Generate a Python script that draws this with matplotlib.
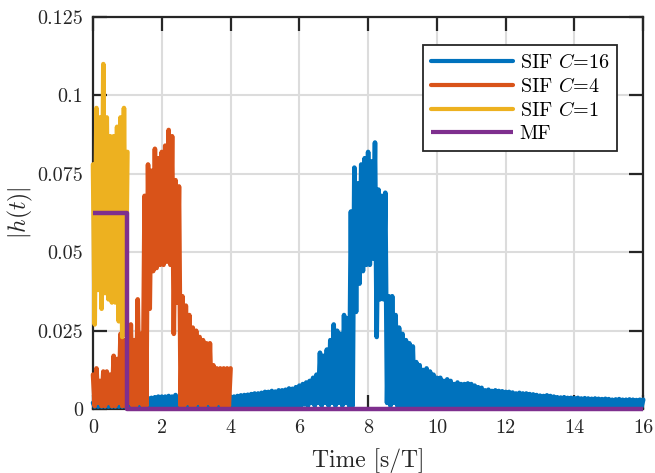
import numpy as np
import matplotlib
matplotlib.use("Agg")
import matplotlib.pyplot as plt

# LaTeX-like look (MATLAB export with latex interpreter)
plt.rcParams['font.family'] = 'serif'
plt.rcParams['font.serif'] = ['cmr10']
plt.rcParams['mathtext.fontset'] = 'cm'
plt.rcParams['axes.unicode_minus'] = False

# --- data read off the picture: envelope of |h(t)| sampled every 0.1 s/T ---
# upper = peaks at t, lower = troughs half a step later
yellow_t = np.arange(0, 1.0001, 0.1)
yellow_upper = [0.078, 0.096, 0.093, 0.110, 0.093, 0.087, 0.087, 0.090, 0.093, 0.096, 0.082]
yellow_lower = [0.027, 0.038, 0.032, 0.037, 0.035, 0.034, 0.034, 0.028, 0.023, 0.031]

orange_t = np.arange(0, 4.0001, 0.1)
orange_upper = [0.011, 0.013, 0.009, 0.012, 0.012, 0.011, 0.017, 0.016, 0.024, 0.022,
                0.027, 0.027, 0.022, 0.035, 0.024, 0.068, 0.078, 0.076, 0.083, 0.080,
                0.082, 0.084, 0.089, 0.087, 0.073, 0.071, 0.036, 0.033, 0.030, 0.026,
                0.025, 0.023, 0.022, 0.021, 0.021, 0.014, 0.013, 0.013, 0.013, 0.013,
                0.013]
orange_lower = [0.001, 0.002, 0.001, 0.001, 0.002, 0.001, 0.001, 0.002, 0.001, 0.001,
                0.002, 0.001, 0.001, 0.002, 0.001, 0.001, 0.032, 0.044, 0.045, 0.046,
                0.046, 0.047, 0.046, 0.024, 0.034, 0.001, 0.001, 0.002, 0.001, 0.001,
                0.002, 0.001, 0.001, 0.002, 0.001, 0.001, 0.002, 0.001, 0.001, 0.001]

blue_t = np.arange(0, 16.0001, 0.1)
blue_upper = [0.002, 0.0025, 0.002, 0.002, 0.0025, 0.002, 0.002, 0.0025, 0.002, 0.002,
              0.0025, 0.003, 0.003, 0.0032, 0.0033, 0.0035, 0.0035, 0.0036, 0.0038, 0.004,
              0.004, 0.004, 0.0042, 0.004, 0.0045, 0.004, 0.0042, 0.004, 0.0042, 0.004,
              0.004, 0.0042, 0.004, 0.0042, 0.004, 0.0042, 0.004, 0.0042, 0.004, 0.004,
              0.004, 0.004, 0.0042, 0.0044, 0.0045, 0.0046, 0.0048, 0.005, 0.005, 0.0052,
              0.0055, 0.0055, 0.0058, 0.0056, 0.006, 0.006, 0.0062, 0.0066, 0.0065, 0.007,
              0.0075, 0.008, 0.0085, 0.009, 0.010, 0.011, 0.018, 0.017, 0.019, 0.022,
              0.027, 0.025, 0.024, 0.030, 0.029, 0.063, 0.077, 0.072, 0.078, 0.080,
              0.082, 0.079, 0.085, 0.070, 0.068, 0.069, 0.036, 0.036, 0.030, 0.026,
              0.024, 0.022, 0.021, 0.020, 0.015, 0.014, 0.0125, 0.013, 0.012, 0.011,
              0.010, 0.010, 0.009, 0.0095, 0.009, 0.008, 0.0085, 0.008, 0.008, 0.0082,
              0.008, 0.0075, 0.007, 0.0068, 0.006, 0.0062, 0.0058, 0.006, 0.0058, 0.0057,
              0.0055, 0.0055, 0.0053, 0.005, 0.0052, 0.005, 0.005, 0.0048, 0.0047, 0.0045,
              0.0043, 0.0042, 0.0044, 0.0042, 0.004, 0.0038, 0.0037, 0.0038, 0.0036, 0.0036,
              0.0035, 0.0036, 0.0034, 0.0035, 0.0034, 0.0033, 0.0034, 0.0033, 0.0032, 0.0033,
              0.0032, 0.003, 0.0031, 0.0032, 0.003, 0.003, 0.0031, 0.003, 0.0029, 0.003,
              0.003]
blue_lower = [0.0008] * 60 + [
              0.001, 0.0015, 0.001, 0.002, 0.001, 0.002, 0.001, 0.002, 0.001, 0.002,
              0.001, 0.002, 0.001, 0.002, 0.001, 0.001, 0.031, 0.040, 0.044, 0.046,
              0.046, 0.048, 0.023, 0.035, 0.035, 0.002, 0.001, 0.002, 0.001, 0.001] + [0.0008] * 70

mf_t = [0, 1, 1, 16]
mf_v = [0.0625, 0.0625, 0, 0]

labels = [r'SIF $C$=16', r'SIF $C$=4', r'SIF $C$=1', 'MF']
colors = ['#0072BD', '#D95319', '#EDB120', '#7E2F8E']

yticks = [0, 0.025, 0.05, 0.075, 0.1, 0.125]
ytick_labels = ['0', '0.025', '0.05', '0.075', '0.1', '0.125']
xticks = [0, 2, 4, 6, 8, 10, 12, 14, 16]


def zigzag(t, upper, lower):
    # peaks at t, troughs halfway to the next sample
    t = np.asarray(t)
    x = np.empty(2 * len(t) - 1)
    y = np.empty(2 * len(t) - 1)
    x[0::2] = t
    x[1::2] = t[:-1] + 0.05
    y[0::2] = upper
    y[1::2] = lower
    return x, y


fig = plt.figure(figsize=(6.55, 4.73), dpi=100)
ax = fig.add_axes([0.142, 0.135, 0.840, 0.829])

series = [(blue_t, blue_upper, blue_lower),
          (orange_t, orange_upper, orange_lower),
          (yellow_t, yellow_upper, yellow_lower)]
for (t, up, lo), c, lab in zip(series, colors, labels):
    x, y = zigzag(t, up, lo)
    ax.plot(x, y, color=c, lw=3.3, label=lab, solid_joinstyle='round',
            solid_capstyle='round', clip_on=False, zorder=3)
ax.plot(mf_t, mf_v, color=colors[3], lw=3.2, label=labels[3],
        solid_capstyle='butt', clip_on=False, zorder=4)

ax.set_xlim(0, 16)
ax.set_ylim(0, 0.125)
ax.set_xticks(xticks)
ax.set_xticklabels([str(v) for v in xticks])
ax.set_yticks(yticks)
ax.set_yticklabels(ytick_labels)

ax.grid(True, color='#dcdcdc', lw=1.5)
ax.set_axisbelow(True)
for s in ax.spines.values():
    s.set_color('#262626')
    s.set_linewidth(1.6)
ax.tick_params(direction='in', length=10, width=1.6, color='#262626',
               top=True, right=True, labelsize=14.5, pad=7, labelcolor='#262626')

ax.set_xlabel('Time [s/T]', fontsize=17, color='#262626', labelpad=8)
ax.set_ylabel(r'$|h(t)|$', fontsize=17, color='#262626', labelpad=2)

leg = ax.legend(loc='upper right', bbox_to_anchor=(0.9527, 0.9286), borderaxespad=0,
                fontsize=14.5, handlelength=4.1, handletextpad=0.3, labelspacing=0.25,
                borderpad=0.4, fancybox=False, framealpha=1)
leg.get_frame().set_edgecolor('#262626')
leg.get_frame().set_linewidth(1.3)
for h in leg.get_lines():
    h.set_linewidth(3)

fig.savefig('out.png', dpi=100)
